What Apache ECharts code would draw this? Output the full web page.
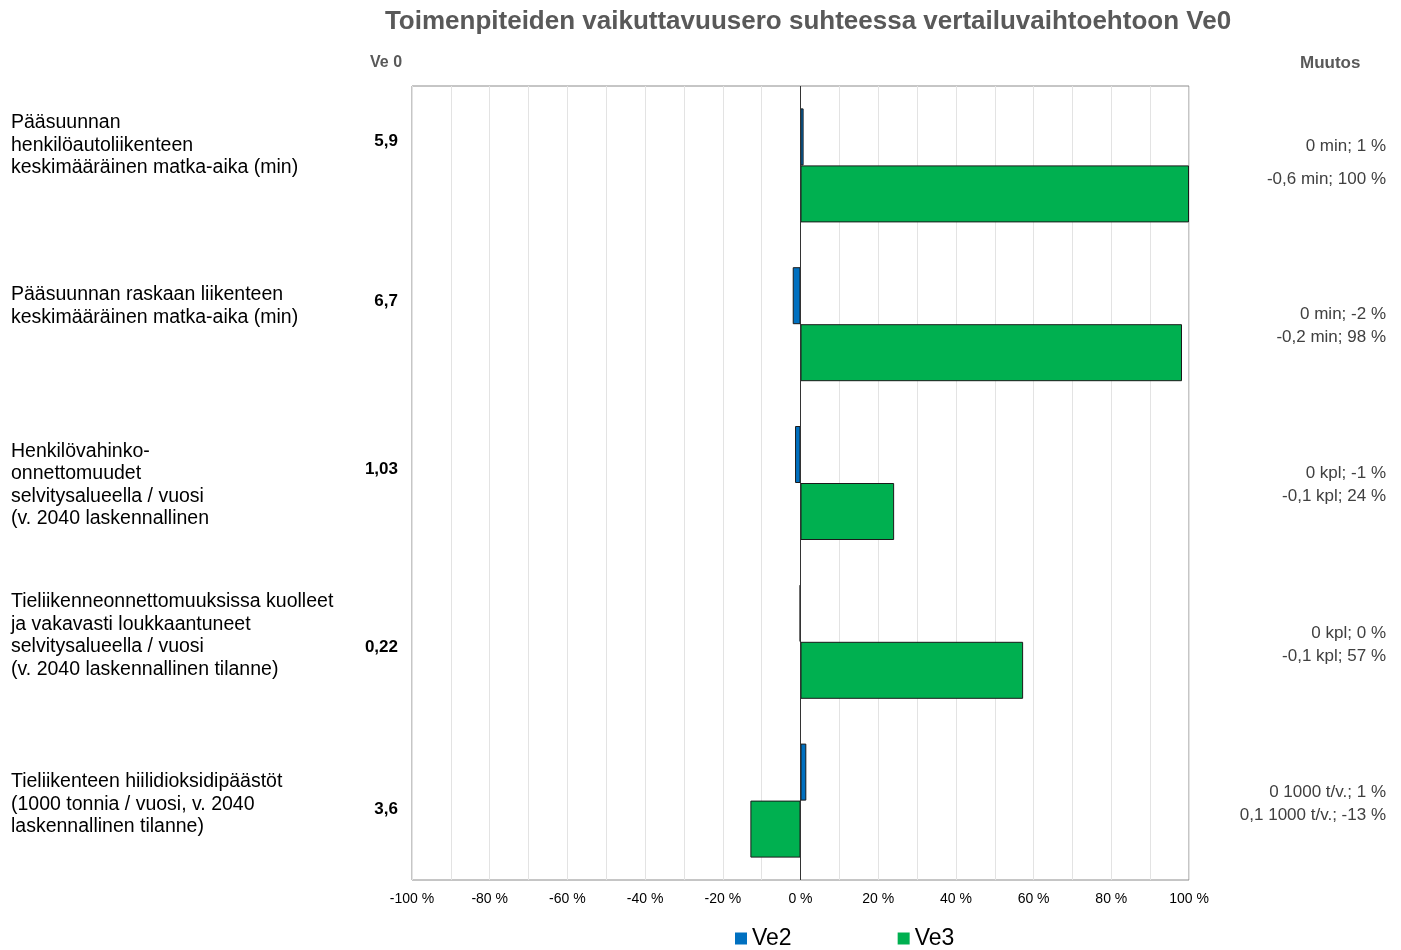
<!DOCTYPE html>
<html>
<head>
<meta charset="utf-8">
<script src="https://cdn.jsdelivr.net/npm/echarts@6/dist/echarts.min.js"></script>
<style>html,body{margin:0;padding:0;background:#fff}#c{width:1401px;height:950px}</style>
</head>
<body>
<div id="c"></div>
<script>
const categories = [
  'Pääsuunnan\nhenkilöautoliikenteen\nkeskimääräinen matka-aika (min)',
  'Pääsuunnan raskaan liikenteen\nkeskimääräinen matka-aika (min)',
  'Henkilövahinko-\nonnettomuudet\nselvitysalueella / vuosi\n(v. 2040 laskennallinen',
  'Tieliikenneonnettomuuksissa kuolleet\nja vakavasti loukkaantuneet\nselvitysalueella / vuosi\n(v. 2040 laskennallinen tilanne)',
  'Tieliikenteen hiilidioksidipäästöt\n(1000 tonnia / vuosi, v. 2040\nlaskennallinen tilanne)'
];
const ve0Values = ['5,9', '6,7', '1,03', '0,22', '3,6'];
const ve2Values = [0.8, -2, -1.4, -0.2, 1.5];
const ve3Values = [100, 98.2, 24.1, 57.3, -12.9];
const muutosVe2 = ['0 min; 1 %', '0 min; -2 %', '0 kpl; -1 %', '0 kpl; 0 %', '0 1000 t/v.; 1 %'];
const muutosVe3 = ['-0,6 min; 100 %', '-0,2 min; 98 %', '-0,1 kpl; 24 %', '-0,1 kpl; 57 %', '0,1 1000 t/v.; -13 %'];

// label vertical offsets in px (style only)
const catShift = [-20, -18, 2, -6, 4];
const ve0Shift = [-24, -23, -14, 6, 9];
const muutosShift = [-3, 2, 2, 3, 3];
const muutosLineH = [33, 23, 23, 23, 23];

const FONT = 'Liberation Sans, Arial, sans-serif';

// spacer line of height 2|d| above (d>0) or below (d<0) shifts the centered block by d
function spacerRich(prefix, shifts, rich) {
  shifts.forEach((d, i) => {
    rich[prefix + 's' + i] = { fontSize: 1, lineHeight: Math.max(1, Math.abs(2 * d)), fontFamily: FONT };
  });
  return rich;
}
function withSpacer(prefix, d, index, body) {
  if (d === 0) return body;
  const sp = '{' + prefix + 's' + index + '| }';
  return d > 0 ? sp + '\n' + body : body + '\n' + sp;
}

const catBase = { fontSize: 19.5, lineHeight: 22.5, color: '#000', fontFamily: FONT, align: 'left' };
const ve0Base = { fontSize: 17, lineHeight: 20, fontWeight: 'bold', color: '#000', fontFamily: FONT, align: 'right' };
const muBase = { fontSize: 17, color: '#404040', fontFamily: FONT, align: 'right' };

const catRich = spacerRich('c', catShift, { n: catBase });
const ve0Rich = spacerRich('v', ve0Shift, { n: ve0Base });
const muRich = spacerRich('m', muutosShift, {});
muutosLineH.forEach((h, i) => { muRich['l' + i] = Object.assign({}, muBase, { lineHeight: h }); });

const chart = echarts.init(document.getElementById('c'));
chart.setOption({
  animation: false,
  textStyle: { fontFamily: FONT },
  title: {
    text: 'Toimenpiteiden vaikuttavuusero suhteessa vertailuvaihtoehtoon Ve0',
    left: 803, top: 4, textAlign: 'center',
    textStyle: { fontSize: 26, fontWeight: 'bold', color: '#595959', fontFamily: FONT }
  },
  graphic: [
    { type: 'text', left: 370, top: 55, style: { text: 'Ve 0', font: 'bold 16px ' + FONT, fill: '#595959' } },
    { type: 'text', left: 1300, top: 55, style: { text: 'Muutos', font: 'bold 17px ' + FONT, fill: '#595959' } }
  ],
  legend: {
    data: ['Ve2', 'Ve3'], left: 735, top: 927, padding: 0, icon: 'rect',
    itemWidth: 12, itemHeight: 12, itemGap: 106, itemTextGap: 5,
    itemStyle: { borderWidth: 0 },
    textStyle: { fontSize: 23, color: '#000', fontFamily: FONT }
  },
  grid: { left: 412, right: 212, top: 86, bottom: 70, show: true, borderColor: '#8c8c8c', borderWidth: 1, containLabel: false, outerBoundsMode: 'none' },
  xAxis: {
    type: 'value', min: -100, max: 100, interval: 10,
    axisLine: { show: false }, axisTick: { show: false },
    splitLine: { show: true, lineStyle: { color: '#e3e3e3', width: 1 } },
    axisLabel: {
      margin: 12, fontSize: 14, color: '#000', fontFamily: FONT,
      formatter: v => (v % 20 === 0 ? v + ' %' : '')
    }
  },
  yAxis: [
    {
      type: 'category', inverse: true, position: 'left',
      data: categories.map(c => ({ value: c, textStyle: { align: 'left' } })),
      axisLine: { show: false, onZero: false }, axisTick: { show: false }, splitLine: { show: false },
      axisLabel: Object.assign({}, catBase, {
        margin: 401,
        formatter: (value, index) => withSpacer('c', catShift[index], index,
          value.split('\n').map(l => '{n|' + l + '}').join('\n')),
        rich: catRich
      })
    },
    {
      type: 'category', inverse: true, position: 'left',
      data: ve0Values.map(c => ({ value: c, textStyle: { align: 'right' } })),
      axisLine: { show: false, onZero: false }, axisTick: { show: false }, splitLine: { show: false },
      axisLabel: Object.assign({}, ve0Base, {
        margin: 14,
        formatter: (value, index) => withSpacer('v', ve0Shift[index], index, '{n|' + value + '}'),
        rich: ve0Rich
      })
    },
    {
      type: 'category', inverse: true, position: 'right',
      data: muutosVe2.map((c, i) => ({ value: c + '\n' + muutosVe3[i], textStyle: { align: 'right' } })),
      axisLine: { show: false, onZero: false }, axisTick: { show: false }, splitLine: { show: false },
      axisLabel: Object.assign({}, muBase, {
        margin: 197,
        formatter: (value, index) => withSpacer('m', muutosShift[index], index,
          value.split('\n').map(l => '{l' + index + '|' + l + '}').join('\n')),
        rich: muRich
      })
    }
  ],
  series: [
    {
      name: 'Ve2', type: 'bar', yAxisIndex: 0, data: ve2Values,
      barWidth: 57, barGap: '0%',
      itemStyle: { color: '#0070C0', borderColor: '#1a1a1a', borderWidth: 1 }
    },
    {
      name: 'Ve3', type: 'bar', yAxisIndex: 0, data: ve3Values,
      barWidth: 57, barGap: '0%',
      itemStyle: { color: '#00B050', borderColor: '#1a1a1a', borderWidth: 1 },
      markLine: {
        silent: true, symbol: 'none', label: { show: false },
        lineStyle: { color: '#333', width: 1, type: 'solid' },
        data: [{ xAxis: 0 }]
      }
    }
  ]
});
</script>
</body>
</html>
